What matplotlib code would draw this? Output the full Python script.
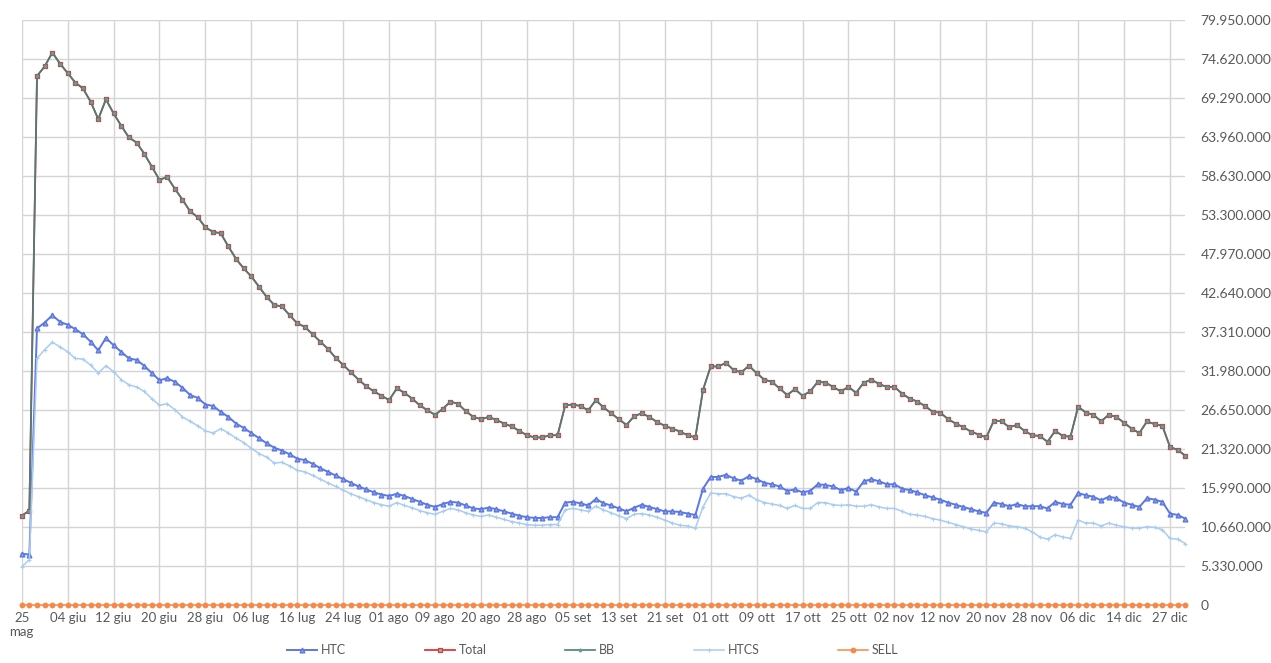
import matplotlib.pyplot as plt
import matplotlib.ticker as mticker
import numpy as np

# values in millions, one per trading day (25 mag -> 31 dic)
total = [12.2, 12.9, 72.3, 73.6, 75.5, 74.0, 72.7, 71.4, 70.6, 68.8, 66.4, 69.1,
         67.2, 65.5, 63.9, 63.2, 61.7, 59.9, 58.1, 58.5, 56.9, 55.4, 53.8, 53.0,
         51.6, 51.0, 50.8, 49.0, 47.3, 46.0, 44.9, 43.5, 42.1, 41.0, 40.8, 39.6, 38.5,
         38.0, 37.0, 36.0, 35.0, 33.8, 32.8, 31.8, 30.8, 29.9, 29.2, 28.6, 28.0,
         29.6, 29.0, 28.2, 27.3, 26.6, 26.0, 26.8, 27.8, 27.5, 26.5, 25.7, 25.4,
         25.7, 25.3, 24.8, 24.4, 23.8, 23.2, 22.9, 22.9, 23.2, 23.2, 27.3, 27.4,
         27.2, 26.6, 28.0,
         27.0, 26.2, 25.4, 24.6, 25.8, 26.2, 25.7, 25.0, 24.5, 24.1, 23.7, 23.2,
         22.9, 29.4, 32.6, 32.6, 33.1, 32.1, 31.8, 32.7, 31.7, 30.8, 30.5, 29.6,
         28.7, 29.5, 28.6, 29.2, 30.5, 30.4, 29.8, 29.2, 29.8, 29.0, 30.4, 30.8,
         30.2, 29.8, 29.8, 28.9, 28.2, 27.8, 27.2, 26.4, 26.3, 25.4,
         24.8, 24.3, 23.7, 23.3, 22.9, 25.2,
         25.1, 24.3, 24.6, 23.8, 23.2, 23.1, 22.3, 23.8, 23.1, 23.0, 27.1, 26.3,
         26.0, 25.1, 26.0, 25.7, 24.9, 24.1, 23.5, 25.1, 24.7, 24.5, 21.6, 21.2, 20.4]

bb = list(total)  # BB lies right on top of Total in the picture

htc = [7.0, 6.9, 37.8, 38.6, 39.6, 38.7, 38.3, 37.7, 37.0, 36.0, 34.8, 36.5,
       35.5, 34.6, 33.7, 33.5, 32.7, 31.7, 30.7, 31.0, 30.5, 29.7, 28.7, 28.3,
       27.4, 27.2, 26.4, 25.7, 24.8, 24.2, 23.5, 22.8, 22.1, 21.5, 21.1, 20.6, 20.0,
       19.8, 19.3, 18.7, 18.2, 17.7, 17.2, 16.7, 16.2, 15.8, 15.4, 15.1, 14.9,
       15.2, 14.9, 14.5, 14.1, 13.7, 13.4, 13.8, 14.1, 14.0, 13.6, 13.2, 13.1,
       13.3, 13.1, 12.8, 12.5, 12.2, 12.0, 11.9, 11.9, 12.0, 12.0, 14.0, 14.1,
       13.9, 13.6, 14.5,
       13.9, 13.6, 13.2, 12.8, 13.3, 13.7, 13.4, 13.1, 12.8, 12.8, 12.7, 12.5,
       12.3, 15.9, 17.5, 17.5, 17.8, 17.3, 17.0, 17.6, 17.2, 16.7, 16.5, 16.2,
       15.6, 15.8, 15.4, 15.6, 16.5, 16.4, 16.2, 15.7, 16.0, 15.5, 16.9, 17.2,
       16.9, 16.5, 16.5, 15.9, 15.7, 15.4, 15.0, 14.7, 14.4, 14.0,
       13.7, 13.4, 13.1, 12.8, 12.6, 14.0,
       13.8, 13.5, 13.8, 13.5, 13.5, 13.5, 13.2, 14.1, 13.8, 13.7, 15.3, 15.0,
       14.8, 14.3, 14.8, 14.6, 14.0, 13.7, 13.4, 14.6, 14.4, 14.1, 12.5, 12.3, 11.8]

htcs = [5.2, 6.2, 33.7, 34.9, 35.9, 35.3, 34.6, 33.7, 33.6, 32.8, 31.7, 32.7,
        31.9, 30.8, 30.1, 29.8, 29.2, 28.2, 27.3, 27.5, 26.7, 25.7, 25.1, 24.5,
        23.8, 23.5, 24.1, 23.5, 22.8, 22.2, 21.4, 20.7, 20.2, 19.4, 19.5, 19.0, 18.4,
        18.2, 17.7, 17.2, 16.7, 16.2, 15.7, 15.2, 14.8, 14.4, 14.0, 13.7, 13.5,
        14.0, 13.6, 13.3, 12.9, 12.6, 12.4, 12.8, 13.2, 13.0, 12.6, 12.3, 12.1,
        12.3, 12.0, 11.7, 11.4, 11.2, 11.0, 10.9, 10.9, 11.0, 11.0, 13.0, 13.2,
        13.0, 12.8, 13.5,
        13.0, 12.6, 12.2, 11.8, 12.4, 12.5, 12.3, 12.0, 11.6, 11.2, 10.9, 10.8,
        10.5, 13.4, 15.3, 15.2, 15.2, 14.8, 14.6, 15.0, 14.4, 14.0, 13.8, 13.6,
        13.2, 13.6, 13.2, 13.2, 14.0, 14.0, 13.7, 13.6, 13.7, 13.5, 13.5, 13.7,
        13.4, 13.2, 13.2, 12.8, 12.4, 12.3, 12.1, 11.8, 11.6, 11.3,
        11.0, 10.7, 10.4, 10.2, 10.0, 11.2,
        11.1, 10.8, 10.7, 10.5, 10.0, 9.3, 9.0, 9.6, 9.3, 9.1, 11.6, 11.2,
        11.2, 10.8, 11.2, 10.9, 10.7, 10.5, 10.5, 10.7, 10.6, 10.3, 9.1, 9.0, 8.4]

sell = [0] * 153

tick_labels = ['25\nmag', '04 giu', '12 giu', '20 giu', '28 giu', '06 lug', '16 lug',
               '24 lug', '01 ago', '09 ago', '20 ago', '28 ago', '05 set', '13 set',
               '21 set', '01 ott', '09 ott', '17 ott', '25 ott', '02 nov', '12 nov',
               '20 nov', '28 nov', '06 dic', '14 dic', '27 dic']
y_ticks = [0, 5330000, 10660000, 15990000, 21320000, 26650000, 31980000, 37310000,
           42640000, 47970000, 53300000, 58630000, 63960000, 69290000, 74620000, 79950000]

plt.rcParams['font.family'] = ['Lato', 'DejaVu Sans']

fig = plt.figure(figsize=(12.71, 6.63), dpi=100)
ax = fig.add_axes([0.01707, 0.08748, 0.91550, 0.88235])

x = np.arange(len(total))
M = 1e6
ax.plot(x, np.array(htc) * M, color='#5b77e2', lw=1.4, marker='^', ms=3.4,
        mec='#5b77e2', mfc='#8fa2ee', label='HTC', clip_on=False, zorder=3)
ax.plot(x, np.array(total) * M, color='#d8393a', lw=1.3, marker='s', ms=3.2,
        mec='#d8393a', mfc='#9fb0a8', mew=0.9, label='Total', clip_on=False, zorder=4)
ax.plot(x, np.array(bb) * M, color='#4a7f78', lw=1.2, marker='D', ms=1.5,
        mec='#5f9a90', mfc='#7fb0a6', label='BB', clip_on=False, zorder=5)
ax.plot(x, np.array(htcs) * M, color='#a9ccf2', lw=1.1, marker='+', ms=3.5, mew=0.8,
        label='HTCS', clip_on=False, zorder=6)
ax.plot(x, np.array(sell) * M, color='#f5894a', lw=1.1, marker='o', ms=3.2,
        mec='#f5894a', label='SELL', clip_on=False, zorder=7)

ax.set_xlim(0, 152)
ax.set_ylim(0, 79950000)
ax.set_xticks(range(0, 153, 6))
ax.set_xticklabels(tick_labels)
ax.set_yticks(y_ticks)
ax.yaxis.tick_right()
ax.yaxis.set_major_formatter(mticker.FuncFormatter(lambda v, p: f'{int(round(v)):,}'.replace(',', '.')))
ax.tick_params(length=0, colors='#595959')
ax.tick_params(axis='x', labelsize=9.5, pad=5)
ax.tick_params(axis='y', labelsize=10, pad=11)
for lab in ax.get_yticklabels():
    lab.set_horizontalalignment('left')
ax.grid(color='#d4d4d4', lw=1)
ax.set_axisbelow(True)
for s in ax.spines.values():
    s.set_visible(False)

leg = ax.legend(loc='center', bbox_to_anchor=(0.491, -0.077), ncol=5, frameon=False,
                fontsize=9, handlelength=2.4, handletextpad=0.3, columnspacing=6.3)
for t in leg.get_texts():
    t.set_color('#595959')

fig.savefig('out.png', dpi=100)
